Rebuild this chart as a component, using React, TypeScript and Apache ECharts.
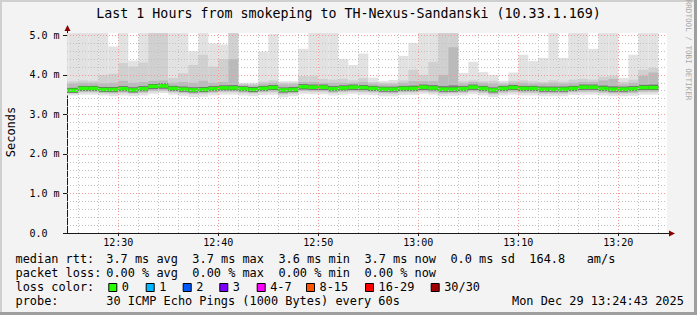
import React, { useEffect, useRef } from 'react';
import * as echarts from 'echarts';

const TITLE = 'Last 1 Hours from smokeping to TH-Nexus-Sandanski (10.33.1.169)';
const FONT = '"DejaVu Sans Mono", monospace';

// one column per minute (start time of each 60 s step)
const times = [
  '12:24', '12:25', '12:26', '12:27', '12:28', '12:29', '12:30', '12:31', '12:32', '12:33',
  '12:34', '12:35', '12:36', '12:37', '12:38', '12:39', '12:40', '12:41', '12:42', '12:43',
  '12:44', '12:45', '12:46', '12:47', '12:48', '12:49', '12:50', '12:51', '12:52', '12:53',
  '12:54', '12:55', '12:56', '12:57', '12:58', '12:59', '13:00', '13:01', '13:02', '13:03',
  '13:04', '13:05', '13:06', '13:07', '13:08', '13:09', '13:10', '13:11', '13:12', '13:13',
  '13:14', '13:15', '13:16', '13:17', '13:18', '13:19', '13:20', '13:21', '13:22', '13:23',
];

// median rtt (ms)
const medV = [
  3.61, 3.61, 3.66, 3.66, 3.63, 3.63, 3.65, 3.62, 3.65, 3.71,
  3.72, 3.66, 3.64, 3.62, 3.63, 3.65, 3.67, 3.67, 3.65, 3.63,
  3.66, 3.68, 3.62, 3.63, 3.70, 3.69, 3.69, 3.65, 3.67, 3.69,
  3.68, 3.66, 3.64, 3.64, 3.66, 3.66, 3.69, 3.67, 3.64, 3.64,
  3.65, 3.69, 3.66, 3.62, 3.66, 3.68, 3.66, 3.66, 3.64, 3.64,
  3.64, 3.66, 3.69, 3.69, 3.66, 3.64, 3.64, 3.65, 3.68, 3.68,
];
// highest ping (top of lightest smoke)
const maxV = [
  5.3, 5.3, 5.3, 5.3, 5.3, 4.72, 5.3, 4.36, 5.3, 5.3,
  5.3, 5.3, 5.3, 4.60, 5.3, 4.80, 4.77, 5.3, 3.80, 3.80,
  4.59, 5.04, 3.84, 3.84, 4.66, 5.3, 5.3, 5.3, 4.40, 4.25,
  4.54, 3.93, 3.84, 3.87, 4.48, 4.81, 5.3, 5.3, 5.3, 5.3,
  4.05, 4.33, 4.07, 4.00, 3.85, 4.06, 4.51, 4.35, 4.43, 5.3,
  4.43, 5.3, 5.3, 4.66, 5.3, 5.3, 3.92, 4.51, 5.3, 5.3,
];
// second level smoke top
const upV = [
  3.84, 3.84, 3.86, 3.85, 4.00, 4.03, 4.30, 4.21, 4.31, 5.3,
  5.3, 3.92, 4.04, 4.25, 4.51, 4.21, 4.40, 5.3, 3.77, 3.77,
  3.83, 3.86, 3.80, 3.80, 3.97, 3.97, 3.90, 3.88, 3.90, 3.86,
  3.92, 3.82, 3.80, 3.80, 3.86, 4.13, 4.00, 4.33, 5.3, 5.3,
  3.84, 3.86, 3.84, 3.85, 3.80, 3.85, 3.86, 3.84, 3.82, 3.86,
  3.83, 3.88, 3.90, 3.88, 3.95, 3.98, 3.82, 3.88, 4.13, 4.18,
];
// third level smoke top
const midV = [
  3.78, 3.78, 3.80, 3.80, 3.78, 3.80, 3.85, 3.80, 3.82, 3.85,
  3.86, 3.80, 3.82, 3.80, 3.85, 3.80, 3.82, 4.40, 3.75, 3.74,
  3.78, 3.80, 3.76, 3.76, 3.82, 3.82, 3.80, 3.80, 3.80, 3.80,
  3.82, 3.78, 3.76, 3.76, 3.80, 3.84, 3.84, 3.84, 4.00, 4.70,
  3.78, 3.82, 3.80, 3.78, 3.76, 3.80, 3.80, 3.78, 3.78, 3.80,
  3.78, 3.80, 3.82, 3.82, 3.86, 3.90, 3.76, 3.80, 3.98, 4.06,
];
// dark core top
const hiV = [
  3.67, 3.67, 3.72, 3.72, 3.69, 3.69, 3.71, 3.68, 3.71, 3.77,
  3.78, 3.72, 3.70, 3.68, 3.69, 3.71, 3.73, 3.74, 3.70, 3.68,
  3.71, 3.74, 3.67, 3.68, 3.76, 3.75, 3.75, 3.71, 3.73, 3.75,
  3.74, 3.72, 3.69, 3.69, 3.72, 3.73, 3.75, 3.74, 3.72, 3.74,
  3.71, 3.75, 3.72, 3.67, 3.71, 3.74, 3.72, 3.72, 3.70, 3.70,
  3.70, 3.72, 3.75, 3.75, 3.73, 3.71, 3.69, 3.71, 3.75, 3.76,
];
// dark core bottom
const loV = [
  3.56, 3.56, 3.60, 3.60, 3.57, 3.57, 3.59, 3.56, 3.59, 3.64,
  3.65, 3.60, 3.58, 3.56, 3.57, 3.59, 3.61, 3.61, 3.59, 3.57,
  3.60, 3.62, 3.56, 3.57, 3.63, 3.62, 3.62, 3.59, 3.61, 3.62,
  3.62, 3.60, 3.58, 3.58, 3.60, 3.60, 3.62, 3.61, 3.58, 3.58,
  3.59, 3.62, 3.60, 3.56, 3.60, 3.62, 3.60, 3.60, 3.58, 3.58,
  3.58, 3.60, 3.62, 3.62, 3.60, 3.58, 3.58, 3.59, 3.62, 3.62,
];
// second level smoke bottom
const low2V = [
  3.52, 3.52, 3.55, 3.55, 3.53, 3.52, 3.54, 3.52, 3.54, 3.58,
  3.59, 3.55, 3.53, 3.51, 3.52, 3.54, 3.56, 3.56, 3.54, 3.52,
  3.55, 3.56, 3.50, 3.52, 3.58, 3.57, 3.57, 3.54, 3.56, 3.57,
  3.56, 3.55, 3.53, 3.52, 3.55, 3.55, 3.57, 3.55, 3.52, 3.53,
  3.54, 3.57, 3.54, 3.50, 3.54, 3.56, 3.54, 3.54, 3.52, 3.52,
  3.52, 3.55, 3.56, 3.56, 3.54, 3.52, 3.52, 3.53, 3.56, 3.56,
];
// lowest ping
const minV = [
  3.48, 3.48, 3.50, 3.50, 3.48, 3.46, 3.48, 3.46, 3.48, 3.52,
  3.54, 3.50, 3.47, 3.44, 3.45, 3.48, 3.50, 3.50, 3.48, 3.46,
  3.49, 3.50, 3.43, 3.46, 3.52, 3.51, 3.51, 3.48, 3.50, 3.52,
  3.50, 3.49, 3.46, 3.46, 3.49, 3.49, 3.52, 3.50, 3.46, 3.47,
  3.48, 3.51, 3.48, 3.44, 3.48, 3.50, 3.48, 3.48, 3.46, 3.46,
  3.46, 3.49, 3.50, 3.50, 3.48, 3.46, 3.46, 3.47, 3.50, 3.50,
];

const xLabelTimes = [30, 40, 50, 60, 70, 80]; // minutes after 12:00
const yLabelValues = [0, 1, 2, 3, 4, 5];

const legendLine1 = [
  ['median rtt:', 0], ['3.7 ms avg', 13], ['3.7 ms max', 25], ['3.6 ms min', 37],
  ['3.7 ms now', 49], ['0.0 ms sd', 61], ['164.8', 72], ['am/s', 80],
];
const legendLine2 = [
  ['packet loss:', 0], ['0.00 % avg', 13], ['0.00 % max', 25], ['0.00 % min', 37], ['0.00 % now', 49],
];
const lossLabels = ['0', '1', '2', '3', '4-7', '8-15', '16-29', '30/30'];
const lossColors = ['#26ff00', '#00b8ff', '#0059ff', '#7e00ff', '#ff00ff', '#ff5500', '#ff0000', '#a10000'];
const lossBoxX = [108.3, 145.7, 182.7, 219.3, 256.7, 306, 365, 430.7];
const probeText = '30 ICMP Echo Pings (1000 Bytes) every 60s';
const dateText = 'Mon Dec 29 13:24:43 2025';

const X_MIN = 24.87;
const X_MAX = 84.87;
const Y_MAX = 5.06;
const G_LEFT = 67, G_TOP = 33, G_W = 600, G_H = 200;

const toMin = (t: string) => {
  const [h, m] = t.split(':').map(Number);
  return (h - 12) * 60 + m;
};

function App() {
  const ref = useRef<HTMLDivElement>(null);
  useEffect(() => {
    const chart = echarts.init(ref.current!, null, { renderer: 'svg' });

    const smokeData = times.map((t, i) => [
      toMin(t), minV[i], low2V[i], loV[i], medV[i], hiV[i], midV[i], upV[i], maxV[i],
    ]);
    const medData = times.map((t, i) => [toMin(t), medV[i]]);

    const colX = (api: any, cs: any, t: number) => {
      const xa = Math.max(api.coord([t, 0])[0], cs.x);
      const xb = Math.min(api.coord([t + 1, 0])[0], cs.x + cs.width);
      return [xa, xb];
    };

    const smokeRender = (params: any, api: any) => {
      const cs = params.coordSys;
      const t = api.value(0);
      const [xa, xb] = colX(api, cs, t);
      const yOf = (v: number) => api.coord([t, Math.min(v, Y_MAX)])[1];
      const band = (lo: number, hi: number, fill: string) => ({
        type: 'rect',
        shape: { x: xa, y: yOf(hi), width: xb - xa, height: yOf(lo) - yOf(hi) },
        style: { fill },
      });
      const mn = api.value(1), l2 = api.value(2), lo = api.value(3);
      const hi = api.value(5), mid = api.value(6), up = api.value(7), mx = api.value(8);
      return {
        type: 'group',
        children: [
          band(mn, mx, '#e2e2e2'),
          band(l2, up, '#d0d0d0'),
          band(l2 + 0.02, mid, '#bababa'),
          band(lo, hi, '#8a8a8a'),
        ],
      };
    };

    const medRender = (params: any, api: any) => {
      const cs = params.coordSys;
      const t = api.value(0);
      const [xa, xb] = colX(api, cs, t);
      const y = api.coord([t, api.value(1)])[1];
      return {
        type: 'group',
        children: [
          { type: 'rect', shape: { x: xa, y: y - 2.4, width: xb - xa, height: 4.8 }, style: { fill: '#666666' } },
          { type: 'rect', shape: { x: xa, y: y - 1.8, width: xb - xa, height: 3.6 }, style: { fill: lossColors[0] } },
        ],
      };
    };

    const gridLines: any[] = [];
    const minorStyle = { color: '#c0c0c0', width: 1, type: [1, 2] };
    const majorStyle = { color: '#f09a9a', width: 1, type: [1, 2] };
    for (let m = 26; m <= 84; m += 2) {
      gridLines.push({ xAxis: m, lineStyle: m % 10 === 0 ? majorStyle : minorStyle });
    }
    for (let k = 1; k <= 25; k++) {
      const v = k / 5;
      gridLines.push({ yAxis: v, lineStyle: k % 5 === 0 ? majorStyle : minorStyle });
    }

    const AXIS = '#1a1a1a';
    const ARROW = '#8b0000';
    const txt = (text: string, x: number, y: number, size: number, extra: any = {}) => ({
      type: 'text',
      x, y,
      silent: true,
      style: {
        text, fontSize: size, fontFamily: FONT, fill: '#000',
        align: 'left', verticalAlign: 'middle', ...extra,
      },
    });
    const valX = (col: number) => 106.3 + (col - 13) * 7.17;

    const graphics: any[] = [
      // frame
      { type: 'rect', shape: { x: 0, y: 0, width: 697, height: 2 }, style: { fill: '#cfcfcf' }, silent: true },
      { type: 'rect', shape: { x: 0, y: 0, width: 2, height: 315 }, style: { fill: '#cfcfcf' }, silent: true },
      { type: 'rect', shape: { x: 694, y: 0, width: 3, height: 315 }, style: { fill: '#9e9e9e' }, silent: true },
      { type: 'rect', shape: { x: 0, y: 312, width: 697, height: 3 }, style: { fill: '#9e9e9e' }, silent: true },
      // title
      txt(TITLE, 348.5, 13, 13.3, { align: 'center' }),
      // watermark
      {
        type: 'text', x: 688.5, y: 50, rotation: -Math.PI / 2, silent: true,
        style: { text: 'RRDTOOL / TOBI OETIKER', fontSize: 7.6, fontFamily: FONT, fill: '#a8a8a8', align: 'center', verticalAlign: 'middle' },
      },
      // y name
      {
        type: 'text', x: 11, y: 132, rotation: Math.PI / 2, silent: true,
        style: { text: 'Seconds', fontSize: 12, fontFamily: FONT, fill: '#000', align: 'center', verticalAlign: 'middle' },
      },
      // axis extensions and arrows
      { type: 'line', shape: { x1: G_LEFT + 0.5, y1: G_TOP, x2: G_LEFT + 0.5, y2: 29 }, style: { stroke: AXIS, lineWidth: 1 }, silent: true },
      { type: 'line', shape: { x1: 63, y1: G_TOP + G_H + 0.5, x2: G_LEFT, y2: G_TOP + G_H + 0.5 }, style: { stroke: AXIS, lineWidth: 1 }, silent: true },
      { type: 'line', shape: { x1: G_LEFT + G_W, y1: G_TOP + G_H + 0.5, x2: 670, y2: G_TOP + G_H + 0.5 }, style: { stroke: AXIS, lineWidth: 1 }, silent: true },
      { type: 'polygon', shape: { points: [[64.5, 31], [70.5, 31], [67.5, 25]] }, style: { fill: ARROW }, silent: true },
      { type: 'polygon', shape: { points: [[669, 230.5], [669, 236.5], [675, 233.5]] }, style: { fill: ARROW }, silent: true },
    ];

    legendLine1.forEach(([s, c]) => graphics.push(txt(s as string, c === 0 ? 15.5 : valX(c as number), 258.6, 11.9)));
    legendLine2.forEach(([s, c]) => graphics.push(txt(s as string, c === 0 ? 15.5 : valX(c as number), 272.6, 11.9)));
    graphics.push(txt('loss color:', 15.5, 286.6, 11.9));
    lossLabels.forEach((lab, i) => {
      graphics.push({
        type: 'rect', silent: true,
        shape: { x: lossBoxX[i] + 0.5, y: 283.5, width: 8, height: 8 },
        style: { fill: lossColors[i], stroke: '#000', lineWidth: 1 },
      });
      graphics.push(txt(lab, lossBoxX[i] + 13.5, 286.6, 11.9));
    });
    graphics.push(txt('probe:', 15.5, 300.6, 11.9));
    graphics.push(txt(probeText, valX(13), 300.6, 11.9));
    graphics.push(txt(dateText, 512, 300.6, 11.9));

    const option: any = {
      animation: false,
      backgroundColor: '#f3f3f3',
      grid: {
        left: G_LEFT, top: G_TOP, width: G_W, height: G_H,
        show: true, backgroundColor: '#ffffff', borderWidth: 0,
      },
      xAxis: {
        type: 'value', min: X_MIN, max: X_MAX,
        splitLine: { show: false },
        axisLine: { show: true, lineStyle: { color: AXIS, width: 1 } },
        axisTick: { show: true, length: 3, customValues: xLabelTimes, lineStyle: { color: AXIS } },
        axisLabel: {
          customValues: xLabelTimes, fontSize: 10, fontFamily: FONT, color: '#000',
          margin: 9, verticalAlign: 'middle',
          formatter: (v: number) => {
            const h = 12 + Math.floor(v / 60);
            const m = Math.round(v % 60);
            return `${h}:${String(m).padStart(2, '0')}`;
          },
        },
      },
      yAxis: {
        type: 'value', min: 0, max: Y_MAX,
        splitLine: { show: false },
        axisLine: { show: true, lineStyle: { color: AXIS, width: 1 } },
        axisTick: { show: true, length: 4, customValues: yLabelValues, lineStyle: { color: AXIS } },
        axisLabel: {
          customValues: yLabelValues, fontSize: 10, fontFamily: FONT, color: '#000',
          align: 'left', margin: 37.5, verticalAlign: 'middle',
          formatter: (v: number) => (v === 0 ? '0.0' : `${v.toFixed(1)} m`),
        },
      },
      series: [
        {
          type: 'custom', z: 1, renderItem: smokeRender, data: smokeData,
          encode: { x: 0, y: 4 }, silent: true, clip: true,
        },
        {
          type: 'line', z: 2, data: [], silent: true,
          markLine: {
            silent: true, symbol: 'none', label: { show: false }, animation: false,
            data: gridLines,
          },
        },
        {
          type: 'custom', z: 3, renderItem: medRender, data: medData,
          encode: { x: 0, y: 1 }, silent: true, clip: true,
        },
      ],
      graphic: graphics,
    };
    chart.setOption(option);
    return () => chart.dispose();
  }, []);
  return <div ref={ref} style={{ position: 'absolute', left: 0, top: 0, width: 697, height: 315 }} />;
}

export default App;
